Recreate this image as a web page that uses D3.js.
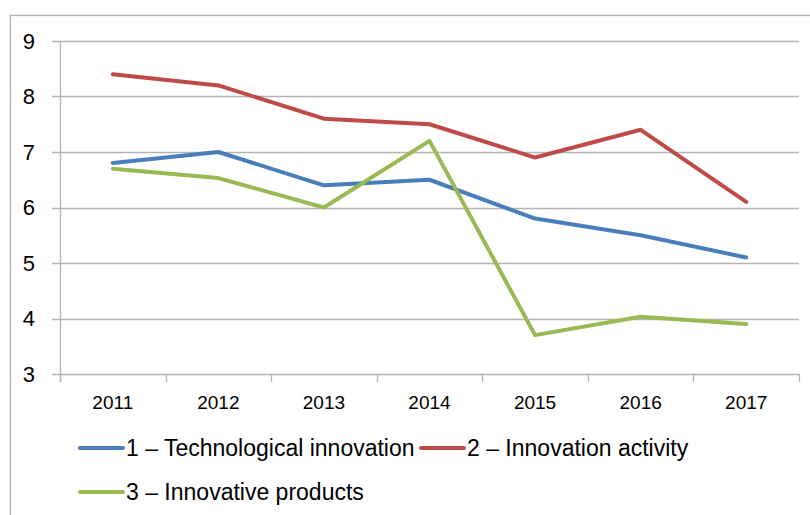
<!DOCTYPE html>
<html>
<head>
<meta charset="utf-8">
<script src="https://cdn.jsdelivr.net/npm/d3@7"></script>
<style>
  body { margin: 0; background: #fff; }
  text { font-family: "Liberation Sans", Arial, sans-serif; fill: #000; }
</style>
</head>
<body>
<svg id="chart" width="810" height="515"></svg>
<script>
// data
var years = ["2011", "2012", "2013", "2014", "2015", "2016", "2017"];
var tech = [6.8, 7.0, 6.4, 6.5, 5.8, 5.5, 5.1];
var activity = [8.4, 8.2, 7.6, 7.5, 6.9, 7.4, 6.1];
var products = [6.7, 6.53, 6.0, 7.2, 3.7, 4.03, 3.9];
var seriesNames = ["1 \u2013 Technological innovation", "2 \u2013 Innovation activity", "3 \u2013 Innovative products"];
var yTicks = [3, 4, 5, 6, 7, 8, 9];

var colors = ["#4a7ebb", "#be4b48", "#98b954"];
var series = [tech, activity, products];

var svg = d3.select("#chart");
var margin = {left: 60, right: 11, top: 41, bottom: 141};
var width = 810 - margin.left - margin.right;
var height = 515 - margin.top - margin.bottom;

// outer chart frame (runs off the right and bottom edge)
svg.append("rect")
    .attr("x", 10.5)
    .attr("y", 15.5)
    .attr("width", 830)
    .attr("height", 530)
    .attr("fill", "none")
    .attr("stroke", "#b3b3b3")
    .attr("stroke-width", 1.3);

var g = svg.append("g")
    .attr("transform", "translate(" + margin.left + "," + margin.top + ")");

var x = d3.scaleBand()
    .domain(years)
    .range([0, width]);

var y = d3.scaleLinear()
    .domain([3, 9])
    .range([height, 0]);

// horizontal gridlines with small ticks on the left
g.selectAll(".grid")
  .data(yTicks)
  .join("line")
    .attr("class", "grid")
    .attr("x1", -8)
    .attr("x2", width)
    .attr("y1", d => Math.round(y(d)) + 0.5)
    .attr("y2", d => Math.round(y(d)) + 0.5)
    .attr("stroke", "#b3b3b3")
    .attr("stroke-width", 1.3);

// y axis line
g.append("line")
    .attr("x1", 0.5).attr("x2", 0.5)
    .attr("y1", y(9)).attr("y2", y(3) + 8)
    .attr("stroke", "#b3b3b3")
    .attr("stroke-width", 1.3);

// category ticks on x axis
g.selectAll(".xtick")
  .data(d3.range(years.length + 1))
  .join("line")
    .attr("class", "xtick")
    .attr("x1", d => Math.round(d * x.step()) + 0.5)
    .attr("x2", d => Math.round(d * x.step()) + 0.5)
    .attr("y1", y(3))
    .attr("y2", y(3) + 8)
    .attr("stroke", "#b3b3b3")
    .attr("stroke-width", 1.3);

g.selectAll(".ylab")
  .data(yTicks)
  .join("text")
    .attr("class", "ylab")
    .attr("x", -25)
    .attr("y", d => y(d))
    .attr("dy", "0.36em")
    .attr("text-anchor", "end")
    .style("font-size", "22px")
    .text(d => d);

g.selectAll(".xlab")
  .data(years)
  .join("text")
    .attr("class", "xlab")
    .attr("x", d => x(d) + x.bandwidth() / 2)
    .attr("y", y(3) + 35)
    .attr("text-anchor", "middle")
    .style("font-size", "19px")
    .text(d => d);

var line = d3.line()
    .x((d, i) => x(years[i]) + x.bandwidth() / 2)
    .y(d => y(d));

g.selectAll(".series")
  .data(series)
  .join("path")
    .attr("class", "series")
    .attr("d", d => line(d))
    .attr("fill", "none")
    .attr("stroke", (d, i) => colors[i])
    .attr("stroke-width", 4)
    .attr("stroke-linejoin", "round")
    .attr("stroke-linecap", "round");

// legend
var legendPos = [{x: 80, y: 448}, {x: 421, y: 448}, {x: 80, y: 492}];
var legend = svg.selectAll(".legend")
  .data(seriesNames)
  .join("g")
    .attr("class", "legend")
    .attr("transform", (d, i) => "translate(" + legendPos[i].x + "," + legendPos[i].y + ")");

legend.append("line")
    .attr("x1", 0).attr("x2", 43)
    .attr("y1", 0).attr("y2", 0)
    .attr("stroke", (d, i) => colors[i])
    .attr("stroke-width", 4)
    .attr("stroke-linecap", "round");

legend.append("text")
    .attr("x", 46)
    .attr("y", 0)
    .attr("dy", "0.36em")
    .style("font-size", "23px")
    .text(d => d);
</script>
</body>
</html>
